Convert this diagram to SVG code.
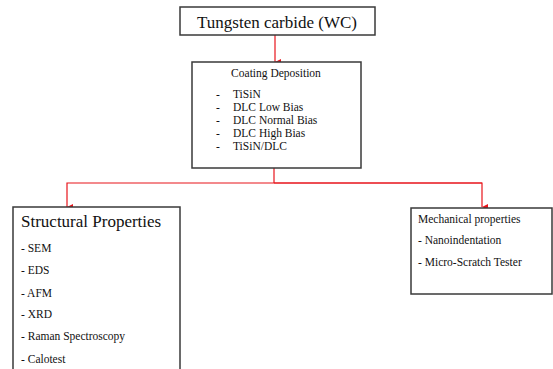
<svg xmlns="http://www.w3.org/2000/svg" width="553" height="369" viewBox="0 0 553 369">
<defs>
<style>
.box{fill:#fff;stroke:#3a3a3a;stroke-width:1.5}
text{font-family:'Liberation Serif','DejaVu Serif',serif;fill:#111}
.big{font-size:17px}
.sm{font-size:11.5px}
.c{fill:none;stroke:#e8141b;stroke-width:1.2}
</style>
<marker id="ah" viewBox="0 0 8 8" refX="4" refY="8" markerWidth="6" markerHeight="6" orient="auto-start-reverse" markerUnits="userSpaceOnUse">
<path d="M0,0 L8,0 L4,8 Z" fill="#e8141b"/>
</marker>
</defs>
<rect width="553" height="369" fill="#fff"/>
<g id="connectors">
<line class="c" x1="275" y1="35" x2="275" y2="62" marker-end="url(#ah)"/>
<polyline class="c" points="274,168 274,183"/>
<polyline class="c" points="482,183 67,183 67,207" marker-end="url(#ah)"/>
<polyline class="c" points="274,183 482,183 482,207" marker-end="url(#ah)"/>
</g>
<g id="wc">
<rect class="box" x="180" y="7" width="195" height="28"/>
<text class="big" x="277" y="28" text-anchor="middle" font-family="Liberation Serif, serif">Tungsten carbide (WC)</text>
</g>
<g id="coating">
<rect class="box" x="192" y="62" width="169" height="106"/>
<text class="sm" x="276" y="77" text-anchor="middle">Coating Deposition</text>
<text class="sm" x="216" y="98">-</text><text class="sm" x="233" y="98">TiSiN</text>
<text class="sm" x="216" y="111">-</text><text class="sm" x="233" y="111">DLC Low Bias</text>
<text class="sm" x="216" y="124">-</text><text class="sm" x="233" y="124">DLC Normal Bias</text>
<text class="sm" x="216" y="137">-</text><text class="sm" x="233" y="137">DLC High Bias</text>
<text class="sm" x="216" y="150">-</text><text class="sm" x="233" y="150">TiSiN/DLC</text>
</g>
<g id="structural">
<rect class="box" x="13" y="207" width="167" height="175"/>
<text class="big" x="21" y="227">Structural Properties</text>
<text class="sm" x="21" y="252">- SEM</text>
<text class="sm" x="21" y="274">- EDS</text>
<text class="sm" x="21" y="297">- AFM</text>
<text class="sm" x="21" y="318">- XRD</text>
<text class="sm" x="21" y="340">- Raman Spectroscopy</text>
<text class="sm" x="21" y="363">- Calotest</text>
</g>
<g id="mechanical">
<rect class="box" x="411" y="208" width="141" height="86"/>
<text class="sm" x="418" y="223">Mechanical properties</text>
<text class="sm" x="418" y="244">- Nanoindentation</text>
<text class="sm" x="418" y="266">- Micro-Scratch Tester</text>
</g>
</svg>
